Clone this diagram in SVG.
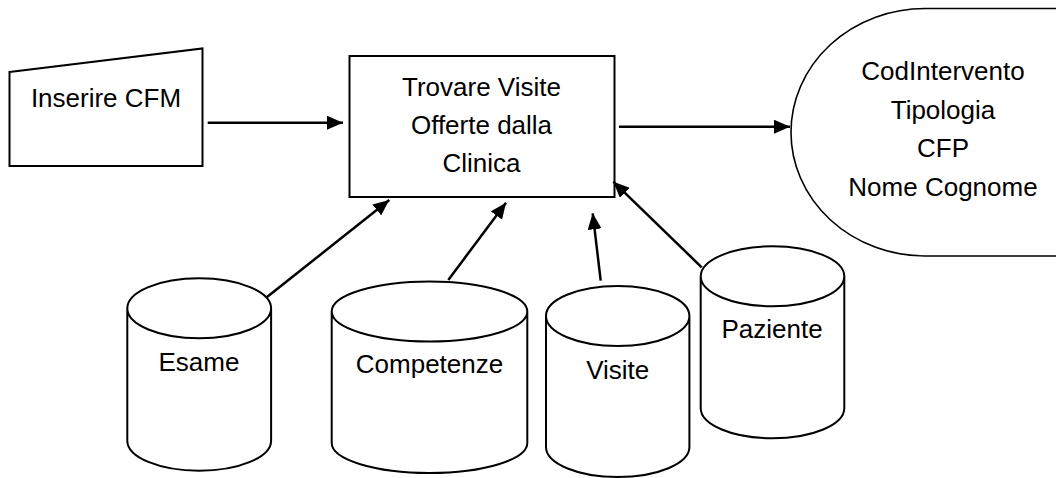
<svg xmlns="http://www.w3.org/2000/svg" width="1056" height="478" viewBox="0 0 1056 478">
<style>
.shape{fill:#fff;stroke:#000;stroke-width:2}
.thin{fill:#fff;stroke:#000;stroke-width:1.6}
.lbl{font-family:"Liberation Sans",Arial,sans-serif;font-size:26px;fill:#000;text-anchor:middle}
.conn{stroke:#000;stroke-width:2.5;fill:none;marker-end:url(#ah)}
</style>
<defs>
<marker id="ah" markerUnits="userSpaceOnUse" markerWidth="16" markerHeight="14" viewBox="0 0 16 14" refX="16" refY="7" orient="auto">
<path d="M0,0 L16,7 L0,14 Z" fill="#000"/>
</marker>
</defs>
<rect width="1056" height="478" fill="#fff"/>
<g id="inserire">
<path class="shape" d="M9.5,72 L202.5,48.5 L202.5,166 L9.5,166 Z"/>
<text class="lbl" x="106" y="107">Inserire CFM</text>
</g>
<g id="trovare">
<rect class="shape" x="349.5" y="56" width="265" height="141"/>
<text class="lbl" x="481.5" y="96">Trovare Visite</text>
<text class="lbl" x="481.5" y="134">Offerte dalla</text>
<text class="lbl" x="481.5" y="172">Clinica</text>
</g>
<g id="output">
<path class="thin" d="M1060,8.5 L925,8.5 A134,123.75 0 0 0 925,256 L1060,256"/>
<text class="lbl" x="943" y="80">CodIntervento</text>
<text class="lbl" x="943" y="118.5">Tipologia</text>
<text class="lbl" x="943" y="157">CFP</text>
<text class="lbl" x="943" y="195.5">Nome Cognome</text>
</g>
<g id="esame">
<path class="shape" d="M127.3,308.3 L127.3,440.7 A71.9,30 0 0 0 271.1,440.7 L271.1,308.3 A71.9,30 0 0 0 127.3,308.3 A71.9,30 0 0 0 271.1,308.3"/>
<text class="lbl" x="199" y="371">Esame</text>
</g>
<g id="competenze">
<path class="shape" d="M331.7,311.5 L331.7,443 A97.8,30 0 0 0 527.3,443 L527.3,311.5 A97.8,30 0 0 0 331.7,311.5 A97.8,30 0 0 0 527.3,311.5"/>
<text class="lbl" x="429.5" y="373">Competenze</text>
</g>
<g id="visite">
<path class="shape" d="M546,316 L546,447 A71.7,30 0 0 0 689.4,447 L689.4,316 A71.7,30 0 0 0 546,316 A71.7,30 0 0 0 689.4,316"/>
<text class="lbl" x="617.7" y="379">Visite</text>
</g>
<g id="paziente">
<path class="shape" d="M700.7,276.3 L700.7,408.3 A71.8,30 0 0 0 844.3,408.3 L844.3,276.3 A71.8,30 0 0 0 700.7,276.3 A71.8,30 0 0 0 844.3,276.3"/>
<text class="lbl" x="772" y="338">Paziente</text>
</g>
<g id="connectors">
<line class="conn" x1="207.7" y1="122.7" x2="343" y2="122.7"/>
<line class="conn" x1="619" y1="126.7" x2="790" y2="126.7"/>
<line class="conn" x1="266.7" y1="297.3" x2="389.3" y2="200"/>
<line class="conn" x1="448.3" y1="280" x2="506" y2="202.7"/>
<line class="conn" x1="600.7" y1="280.7" x2="592.7" y2="213.3"/>
<line class="conn" x1="701.7" y1="267.3" x2="613.3" y2="181.7"/>
</g>
</svg>
